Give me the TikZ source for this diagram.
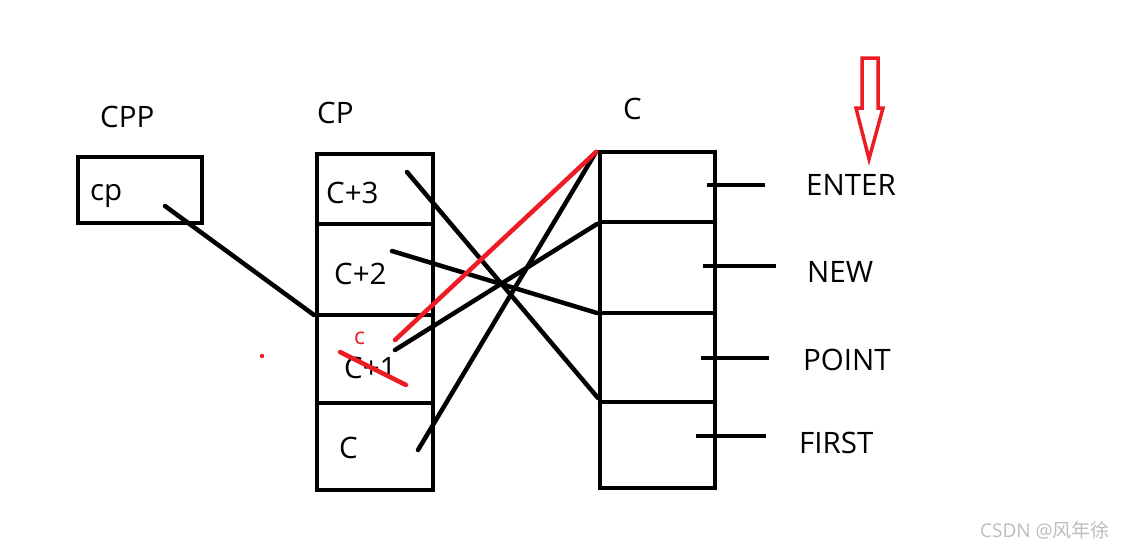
\documentclass[tikz,border=0pt]{standalone}
\usepackage{fontspec}
\setmainfont{Open Sans}
\newfontfamily\cjkfont{Noto Sans CJK SC}
\definecolor{paintred}{HTML}{ED1C24}
\definecolor{wmgray}{HTML}{BDBDBD}
\begin{document}
\begin{tikzpicture}[x=1pt,y=-1pt,
  cell/.style={draw=black,line width=4.5pt,inner sep=0pt,minimum width=#1,anchor=center},
  lbl/.style={inner sep=0pt,anchor=base west,font=\fontsize{29.5}{31}\selectfont},
  wire/.style={draw=black,line width=4.5pt,line cap=round},
  redwire/.style={draw=paintred,line width=4.5pt,line cap=round},
  stub/.style={draw=black,line width=4.5pt}]
\useasboundingbox (0,0) rectangle (1133,550);
\fill[white] (0,0) rectangle (1133,550);

% CPP box
\node[cell=124pt,minimum height=66pt] (cppbox) at (140,190) {};
\node[lbl] (cpptitle) at (100,127) {CPP};
\node[lbl] (cptext) at (90,200) {cp};

% CP column
\node[lbl] (cptitle) at (317,123) {CP};
\node[cell=116pt,minimum height=70pt] (cp3) at (375,189) {};
\node[cell=116pt,minimum height=91pt] (cp2) at (375,269.5) {};
\node[cell=116pt,minimum height=88pt] (cp1) at (375,359) {};
\node[cell=116pt,minimum height=87pt] (cp0) at (375,446.5) {};
\node[lbl] (t3) at (326,203) {C+3};
\node[lbl] (t2) at (334,284) {C+2};
\node[lbl] (t1) at (344,378) {C+1};
\node[lbl] (t0) at (339,458) {C};
\node[inner sep=0pt,anchor=base west,text=paintred,font=\fontsize{23}{24}\selectfont] (redc) at (354,344) {c};

% C column
\node[lbl] (ctitle) at (623,119) {C};
\node[cell=115pt,minimum height=70pt] (c0) at (657.5,187) {};
\node[cell=115pt,minimum height=91pt] (c1) at (657.5,267.5) {};
\node[cell=115pt,minimum height=89pt] (c2) at (657.5,357.5) {};
\node[cell=115pt,minimum height=86pt] (c3) at (657.5,445) {};

% labels on the right
\node[lbl] (enter) at (806,195) {ENTER};
\node[lbl] (new) at (807,282) {NEW};
\node[lbl] (point) at (803,370) {POINT};
\node[lbl] (first) at (799,453) {FIRST};

% stubs
\coordinate (s0a) at (707,185); \coordinate (s0b) at (765,185);
\coordinate (s1a) at (703,266); \coordinate (s1b) at (776,266);
\coordinate (s2a) at (701,358); \coordinate (s2b) at (769,358);
\coordinate (s3a) at (696,436); \coordinate (s3b) at (766,436);
\draw[stub] (s0a) -- (s0b);
\draw[stub] (s1a) -- (s1b);
\draw[stub] (s2a) -- (s2b);
\draw[stub] (s3a) -- (s3b);

% pointer wires
\coordinate (cpfrom) at (165,206);
\coordinate (cpto) at (314,315);
\draw[wire] (cpfrom) -- (cpto);

\coordinate (p3) at (407,172);
\coordinate (p2) at (392,251);
\coordinate (p1) at (395,350);
\coordinate (p1r) at (395,340);
\coordinate (p0) at (418,450);
\coordinate (q0) at (596,152);
\coordinate (q1) at (597,224);
\coordinate (q2) at (597,313);
\coordinate (q3) at (598,398);

\draw[wire] (p3) -- (q3);
\draw[wire] (p2) -- (q2);
\draw[wire] (p1) -- (q1);
\draw[wire] (p0) -- (q0);
\draw[redwire] (p1r) -- (q0);

% red strike-through
\coordinate (sa) at (340,352);
\coordinate (sb) at (406,385);
\draw[redwire] (sa) -- (sb);

% red dot
\fill[paintred] (262,356) circle (2.2);

% red hollow arrow
\draw[paintred,line width=3.5pt,line join=miter]
  (862,58) -- (878,58) -- (878,108) -- (883,108) -- (869,159) -- (856,108) -- (862,108) -- cycle;

% watermark
\node[inner sep=0pt,anchor=base west,text=wmgray,font=\fontsize{19}{21}\selectfont] (wm) at (980,537) {CSDN @{\cjkfont 风年徐}};
\end{tikzpicture}
\end{document}
